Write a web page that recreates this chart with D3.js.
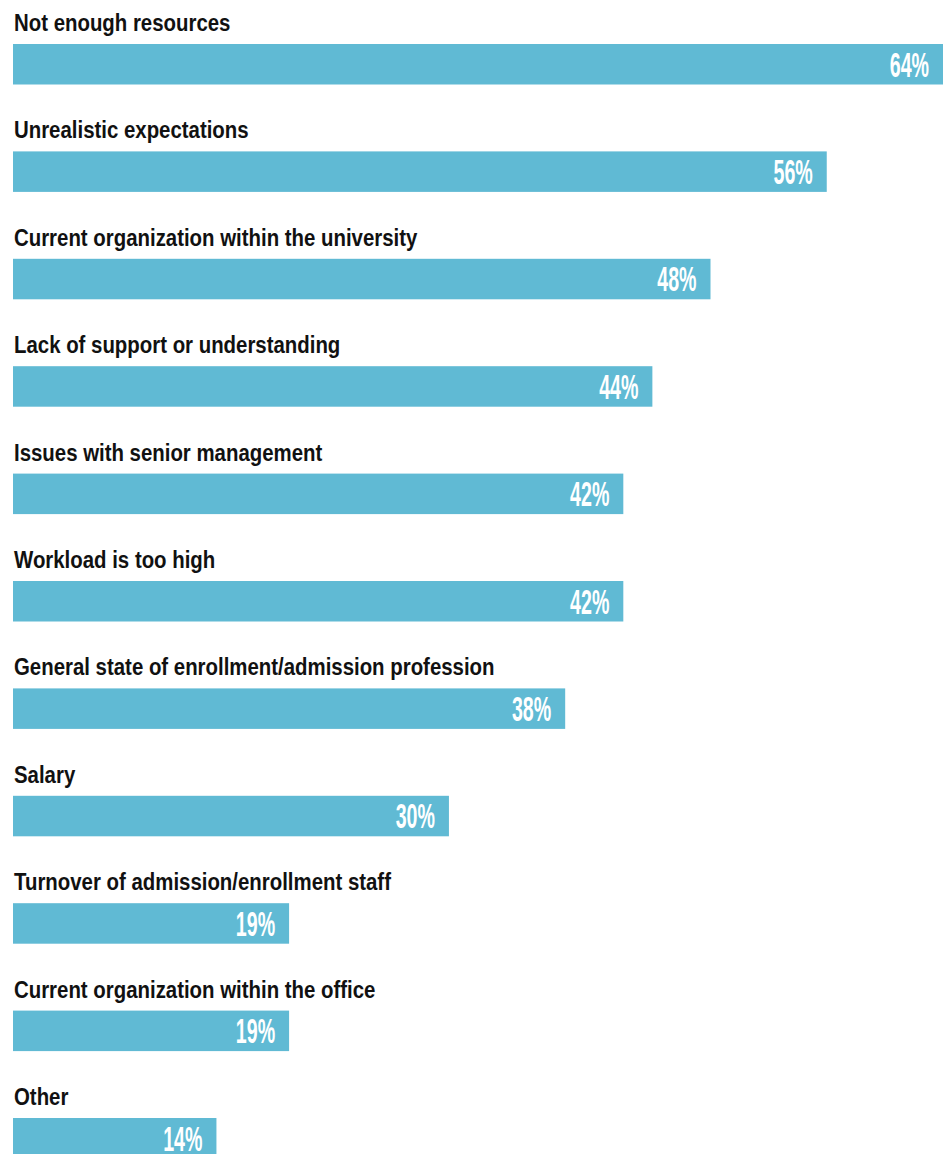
<!DOCTYPE html>
<html>
<head>
<meta charset="utf-8">
<script src="https://cdn.jsdelivr.net/npm/d3@7"></script>
<style>
  html, body { margin: 0; padding: 0; background: #ffffff; }
  svg { display: block; }
</style>
</head>
<body>
<script>
// Reasons cited, share of respondents (%)
const categories = [
  "Not enough resources",
  "Unrealistic expectations",
  "Current organization within the university",
  "Lack of support or understanding",
  "Issues with senior management",
  "Workload is too high",
  "General state of enrollment/admission profession",
  "Salary",
  "Turnover of admission/enrollment staff",
  "Current organization within the office",
  "Other"
];
const values = [64, 56, 48, 44, 42, 42, 38, 30, 19, 19, 14];

const width = 950, height = 1154;
const left = 13;
const firstBarTop = 44;
const step = 107.4;
const barH = 40.5;

const svg = d3.select("body").append("svg")
  .attr("width", width)
  .attr("height", height);

const x = d3.scaleLinear().domain([0, 64]).range([0, 930]);

const y = d3.scaleBand()
  .domain(categories)
  .range([firstBarTop, firstBarTop + step * categories.length])
  .paddingInner(0)
  .paddingOuter(0);

const row = svg.selectAll("g.row")
  .data(categories.map((c, i) => ({ cat: c, val: values[i] })))
  .join("g")
  .attr("class", "row")
  .attr("transform", d => `translate(${left},${y(d.cat)})`);

row.append("rect")
  .attr("x", 0)
  .attr("y", 0)
  .attr("width", d => x(d.val))
  .attr("height", barH)
  .attr("fill", "#60bad4");

// Category labels in a narrowed grotesque
row.append("text")
  .attr("transform", "translate(1,-13) scale(0.85,1)")
  .attr("font-family", "'Liberation Sans', Arial, sans-serif")
  .attr("font-weight", "bold")
  .attr("font-size", 24)
  .attr("fill", "#111111")
  .text(d => d.cat);

// Value labels, right-aligned inside each bar, strongly condensed
row.append("text")
  .attr("transform", d => `translate(${x(d.val) - 14},32.5) scale(0.56,1)`)
  .attr("text-anchor", "end")
  .attr("font-family", "'Liberation Sans', Arial, sans-serif")
  .attr("font-weight", "bold")
  .attr("font-size", 35)
  .attr("fill", "#ffffff")
  .text(d => d.val + "%");
</script>
</body>
</html>
